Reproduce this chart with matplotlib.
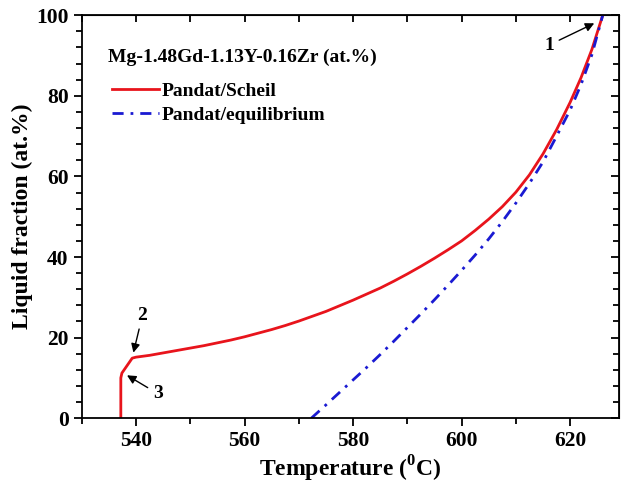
import matplotlib
matplotlib.use("Agg")
import matplotlib.pyplot as plt
from matplotlib.ticker import MultipleLocator

plt.rcParams['font.family'] = ['Liberation Serif', 'DejaVu Serif']
plt.rcParams['font.weight'] = 'bold'
plt.rcParams['axes.labelweight'] = 'bold'
plt.rcParams['mathtext.fontset'] = 'custom'
plt.rcParams['mathtext.rm'] = 'Liberation Serif:bold'
plt.rcParams['mathtext.bf'] = 'Liberation Serif:bold'

# Scheil solidification curve
scheil_t = [537.2, 537.2, 537.4, 539.3, 540.0, 542.5, 545.0, 547.5, 550.0,
            552.5, 555.0, 557.5, 560.0, 562.5, 565.0, 567.5, 570.0, 572.5,
            575.0, 577.5, 580.0, 582.5, 585.0, 587.5, 590.0, 592.5, 595.0,
            597.5, 600.0, 602.5, 605.0, 607.5, 610.0, 612.5, 615.0, 617.5,
            620.0, 622.0, 624.0, 626.0]
scheil_l = [0.0, 10.0, 11.2, 14.9, 15.15, 15.6, 16.2, 16.8, 17.4,
            18.0, 18.7, 19.4, 20.2, 21.1, 22.0, 23.0, 24.1, 25.3,
            26.5, 27.9, 29.3, 30.8, 32.3, 34.0, 35.8, 37.7, 39.7,
            41.8, 44.0, 46.6, 49.4, 52.5, 56.1, 60.4, 65.6, 71.6,
            78.4, 84.5, 91.5, 100.0]

# equilibrium solidification curve
equil_t = [572.3, 575.0, 577.5, 580.0, 582.5, 585.0, 587.5, 590.0, 592.5,
           595.0, 597.5, 600.0, 602.5, 605.0, 607.5, 610.0, 612.5, 615.0,
           617.5, 620.0, 622.0, 624.0, 626.0]
equil_l = [0.0, 3.3, 6.4, 9.5, 12.6, 15.8, 19.1, 22.5, 25.9,
           29.4, 33.0, 36.7, 40.5, 44.5, 48.8, 53.4, 58.3, 63.6,
           70.0, 76.5, 82.8, 90.2, 100.0]

fig = plt.figure(figsize=(6.24, 4.92), dpi=100)
ax = fig.add_axes([0.131, 0.150, 0.861, 0.819])

ax.plot(scheil_t, scheil_l, color='#e8141c', lw=2.0, label='Pandat/Scheil')
ax.plot(equil_t, equil_l, color='#1a1ad2', lw=2.0, dashes=(4, 2.5, 1, 2.5),
        label='Pandat/equilibrium')

ax.set_xlim(530, 629)
ax.set_ylim(0, 100)
ax.xaxis.set_major_locator(MultipleLocator(20))
ax.xaxis.set_minor_locator(MultipleLocator(10))
ax.yaxis.set_major_locator(MultipleLocator(20))
ax.yaxis.set_minor_locator(MultipleLocator(4))

for side in ax.spines.values():
    side.set_linewidth(1.3)
ax.tick_params(which='both', direction='out', width=1.3, labelsize=15.5,
               top=False, right=False)
ax.tick_params(which='major', length=6)
ax.tick_params(which='minor', length=4)

# inward ticks on top and right
ax2 = ax.secondary_xaxis('top')
ax2.set_xticks(range(530, 630, 10))
ax2.tick_params(direction='in', length=5, width=1.3, labeltop=False)
ax2.set_xticklabels([])
ay2 = ax.secondary_yaxis('right')
ay2.yaxis.set_major_locator(MultipleLocator(20))
ay2.yaxis.set_minor_locator(MultipleLocator(4))
ay2.tick_params(which='both', direction='in', width=1.3, labelright=False)
ay2.tick_params(which='major', length=6)
ay2.tick_params(which='minor', length=4)

ax.set_xlabel('Temperature ($^{0}$C)', fontsize=17, labelpad=2)
ax.set_ylabel('Liquid fraction (at.%)', fontsize=17, labelpad=2)

ax.text(0.048, 0.895, 'Mg-1.48Gd-1.13Y-0.16Zr (at.%)', transform=ax.transAxes,
        fontsize=14, va='center', ha='left')
ax.legend(loc='upper left', bbox_to_anchor=(0.042, 0.853), frameon=False,
          fontsize=14, handlelength=2.4, handletextpad=0.15, labelspacing=0.32,
          borderaxespad=0.0)

arrow = dict(arrowstyle='-|>', color='black', lw=1.0, mutation_scale=13)
ax.annotate('1', xy=(624.9, 98.3), xytext=(616.1, 92.6), fontsize=14,
            ha='center', va='center', arrowprops=arrow)
ax.annotate('2', xy=(539.4, 15.6), xytext=(541.2, 25.6), fontsize=14,
            ha='center', va='center', arrowprops=arrow)
ax.annotate('3', xy=(537.9, 11.0), xytext=(544.0, 6.1), fontsize=14,
            ha='center', va='center', arrowprops=arrow)

fig.savefig('out.png', dpi=100)
